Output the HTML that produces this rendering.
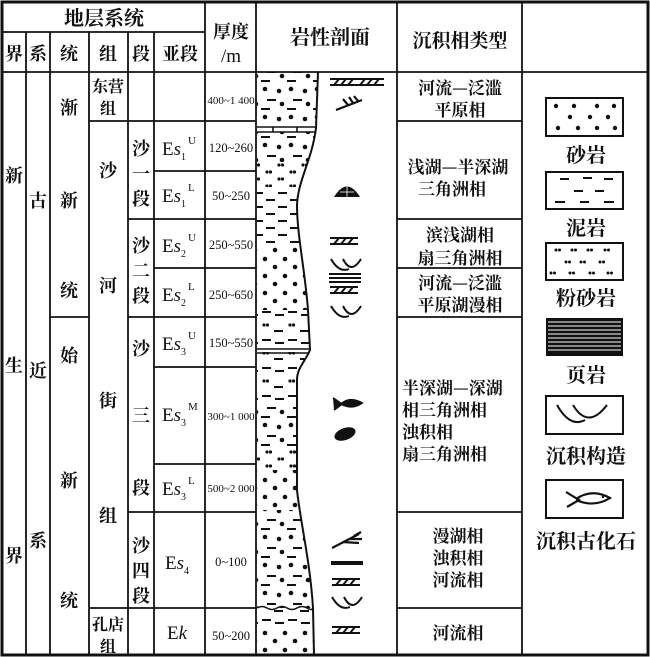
<!DOCTYPE html>
<html><head><meta charset="utf-8">
<style>
html,body{margin:0;padding:0;background:#fff;}
svg{display:block;}
text{font-family:"Liberation Serif","Noto Serif CJK SC",serif;fill:#111;}
.cj{font-family:"Noto Serif CJK SC","Liberation Serif",serif;font-weight:700;}
</style></head><body>
<svg width="650" height="657" viewBox="0 0 650 657" xmlns="http://www.w3.org/2000/svg">
<defs>
  <pattern id="sand" width="20" height="17" patternUnits="userSpaceOnUse">
    <circle cx="5" cy="4" r="2.3" fill="#111"/><circle cx="15" cy="12" r="2.3" fill="#111"/>
  </pattern>
  <pattern id="mud" width="24" height="14" patternUnits="userSpaceOnUse">
    <rect x="2" y="3" width="9" height="2" fill="#111"/><rect x="14" y="10" width="9" height="2" fill="#111"/>
  </pattern>
  <pattern id="silt" width="24" height="14" patternUnits="userSpaceOnUse">
    <circle cx="3" cy="4" r="1.6" fill="#111"/><circle cx="6.5" cy="4" r="1.6" fill="#111"/>
    <circle cx="15" cy="11" r="1.6" fill="#111"/><circle cx="18.5" cy="11" r="1.6" fill="#111"/>
  </pattern>
  <pattern id="mix" width="26" height="28" patternUnits="userSpaceOnUse">
    <circle cx="5" cy="5" r="2.3" fill="#111"/><circle cx="19" cy="7" r="2.3" fill="#111"/>
    <rect x="7" y="15" width="9" height="2" fill="#111"/><circle cx="22" cy="20" r="2.3" fill="#111"/>
    <rect x="1" y="24" width="9" height="2" fill="#111"/>
  </pattern>
  <pattern id="mixs" width="26" height="28" patternUnits="userSpaceOnUse">
    <rect x="2" y="3" width="9" height="2" fill="#111"/><rect x="15" y="6" width="9" height="2" fill="#111"/>
    <circle cx="4" cy="17" r="1.6" fill="#111"/><circle cx="7.5" cy="17" r="1.6" fill="#111"/>
    <rect x="14" y="22" width="9" height="2" fill="#111"/>
  </pattern>
  <clipPath id="prof">
    <path d="M257,72 L318,72 L316,128 C312,160 298,180 297,205 C297,235 305,270 308,310 L310,350 C305,362 297,368 297,380 L297,490 C300,520 310,560 313,608 L314,655 L257,655 Z"/>
  </clipPath>
  <g id="zzz">
    <line x1="0" y1="0" x2="28" y2="0" stroke="#111" stroke-width="2"/>
    <line x1="0" y1="6" x2="28" y2="6" stroke="#111" stroke-width="2"/>
    <line x1="4" y1="6" x2="9" y2="0" stroke="#111" stroke-width="2"/>
    <line x1="11" y1="6" x2="16" y2="0" stroke="#111" stroke-width="2"/>
    <line x1="18" y1="6" x2="23" y2="0" stroke="#111" stroke-width="2"/>
  </g>
  <g id="cur">
    <path d="M0,0 Q8,14 18,10 M12,0 Q20,16 30,0" fill="none" stroke="#111" stroke-width="2"/>
  </g>
</defs>

<g clip-path="url(#prof)">
  <rect x="257" y="72" width="70" height="54" fill="url(#mix)"/>
  <rect x="257" y="132" width="70" height="30" fill="url(#mix)"/>
  <rect x="257" y="162" width="70" height="25" fill="url(#silt)"/>
  <rect x="257" y="187" width="70" height="58" fill="url(#mud)"/>
  <rect x="257" y="245" width="70" height="65" fill="url(#sand)"/>
  <rect x="257" y="310" width="70" height="40" fill="url(#mixs)"/>
  <rect x="257" y="352" width="70" height="50" fill="url(#mixs)"/>
  <rect x="257" y="402" width="70" height="48" fill="url(#mix)"/>
  <rect x="257" y="450" width="70" height="20" fill="url(#silt)"/>
  <rect x="257" y="470" width="70" height="40" fill="url(#sand)"/>
  <rect x="257" y="510" width="70" height="98" fill="url(#mix)"/>
  <rect x="257" y="610" width="70" height="20" fill="url(#mixs)"/>
  <rect x="257" y="630" width="70" height="25" fill="url(#sand)"/>
</g>
<path d="M318,72 L316,128 C312,160 298,180 297,205 C297,235 305,270 308,310 L310,350 C305,362 297,368 297,380 L297,490 C300,520 310,560 313,608 L314,655" fill="none" stroke="#111" stroke-width="2"/>
<g stroke="#111" stroke-width="1.6" fill="none">
  <line x1="257" y1="127" x2="316" y2="127"/><line x1="257" y1="132" x2="315" y2="132"/>
  <line x1="273" y1="127" x2="273" y2="132"/><line x1="297" y1="127" x2="297" y2="132"/>
  <line x1="257" y1="349" x2="310" y2="349"/><line x1="257" y1="353" x2="308" y2="353"/>
  <path d="M257,608 q5,-3 10,0 t10,0 t10,0 t10,0 t10,0 t6,0"/>
</g>

<use href="#zzz" x="330" y="79"/>
<use href="#zzz" x="356" y="79"/>
<g stroke="#111" stroke-width="2.2" fill="none">
  <path d="M336,110 L362,100 M348,105 L343,99 M353,103 L349,97 M358,101 L354,96"/>
  <path d="M332,548 L359,534 M343,542 L359,543 M349,539 L362,539 M354,536 L361,532"/>
</g>
<path d="M334,197 Q347,176 360,197 Z" fill="#111"/>
<g stroke="#fff" stroke-width="0.8"><line x1="340" y1="192" x2="354" y2="192"/><line x1="347" y1="183" x2="347" y2="197"/></g>
<use href="#zzz" x="330" y="238"/>
<use href="#cur" x="331" y="259"/>
<g stroke="#111" stroke-width="2"><line x1="329" y1="274" x2="361" y2="274"/><line x1="329" y1="278" x2="361" y2="278"/><line x1="329" y1="282" x2="361" y2="282"/></g>
<use href="#zzz" x="330" y="287"/>
<use href="#cur" x="331" y="306"/>
<path d="M333,398 L342,404 L334,410 M341,404 Q350,396 362,403 Q352,410 341,404" fill="#111" stroke="#111" stroke-width="1.8"/>
<ellipse cx="345" cy="434" rx="11" ry="6" transform="rotate(-20 345 434)" fill="#111"/>
<rect x="331" y="561" width="32" height="4" fill="#111"/>
<use href="#zzz" x="332" y="579"/>
<use href="#cur" x="332" y="597"/>
<use href="#zzz" x="332" y="627"/>

<g stroke="#111" stroke-width="1.8">
  <line x1="2" y1="32" x2="205" y2="32"/>
  <line x1="2" y1="72" x2="648" y2="72"/>
  <line x1="26" y1="32" x2="26" y2="655"/>
  <line x1="50" y1="32" x2="50" y2="655"/>
  <line x1="89" y1="32" x2="89" y2="655"/>
  <line x1="128" y1="32" x2="128" y2="655"/>
  <line x1="154" y1="32" x2="154" y2="655"/>
  <line x1="205" y1="2" x2="205" y2="655"/>
  <line x1="256" y1="2" x2="256" y2="655"/>
  <line x1="397" y1="2" x2="397" y2="655"/>
  <line x1="522" y1="2" x2="522" y2="655"/>
  <line x1="89" y1="121" x2="256" y2="121"/><line x1="397" y1="121" x2="522" y2="121"/>
  <line x1="154" y1="171" x2="256" y2="171"/>
  <line x1="128" y1="219" x2="256" y2="219"/><line x1="397" y1="219" x2="522" y2="219"/>
  <line x1="154" y1="268" x2="256" y2="268"/><line x1="397" y1="268" x2="522" y2="268"/>
  <line x1="50" y1="317" x2="89" y2="317"/><line x1="128" y1="317" x2="256" y2="317"/><line x1="397" y1="317" x2="522" y2="317"/>
  <line x1="154" y1="367" x2="256" y2="367"/>
  <line x1="154" y1="464" x2="256" y2="464"/>
  <line x1="128" y1="512" x2="256" y2="512"/><line x1="397" y1="512" x2="522" y2="512"/>
  <line x1="89" y1="608" x2="256" y2="608"/><line x1="397" y1="608" x2="522" y2="608"/>
</g>
<rect x="2" y="2" width="646" height="653" fill="none" stroke="#111" stroke-width="3"/>

<g text-anchor="middle">
  <text x="104" y="25" class="cj" font-size="20">地层系统</text>
  <text x="14" y="60" class="cj" font-size="18">界</text>
  <text x="38" y="60" class="cj" font-size="18">系</text>
  <text x="69" y="60" class="cj" font-size="18">统</text>
  <text x="108" y="60" class="cj" font-size="18">组</text>
  <text x="141" y="60" class="cj" font-size="18">段</text>
  <text x="180" y="60" class="cj" font-size="18">亚段</text>
  <text x="231" y="38" class="cj" font-size="18">厚度</text>
  <text x="231" y="62" font-size="19">/m</text>
  <text x="330" y="44" class="cj" font-size="20">岩性剖面</text>
  <text x="460" y="47" class="cj" font-size="19">沉积相类型</text>
</g>

<g text-anchor="middle" font-size="18">
  <text x="14" y="182" class="cj">新</text><text x="14" y="372" class="cj">生</text><text x="14" y="562" class="cj">界</text>
  <text x="38" y="207" class="cj">古</text><text x="38" y="377" class="cj">近</text><text x="38" y="547" class="cj">系</text>
  <text x="69" y="114" class="cj">渐</text><text x="69" y="207" class="cj">新</text><text x="69" y="297" class="cj">统</text>
  <text x="69" y="362" class="cj">始</text><text x="69" y="487" class="cj">新</text><text x="69" y="607" class="cj">统</text>
  <text x="108" y="92" class="cj" font-size="16">东营</text><text x="108" y="114" class="cj" font-size="16">组</text>
  <text x="108" y="177" class="cj">沙</text><text x="108" y="292" class="cj">河</text><text x="108" y="407" class="cj">街</text><text x="108" y="522" class="cj">组</text>
  <text x="108" y="630" class="cj" font-size="16">孔店</text><text x="108" y="652" class="cj" font-size="16">组</text>
  <text x="141" y="155" class="cj">沙</text><text x="141" y="180" class="cj">一</text><text x="141" y="205" class="cj">段</text>
  <text x="141" y="252" class="cj">沙</text><text x="141" y="277" class="cj">二</text><text x="141" y="302" class="cj">段</text>
  <text x="141" y="355" class="cj">沙</text><text x="141" y="422" class="cj">三</text><text x="141" y="494" class="cj">段</text>
  <text x="141" y="552" class="cj">沙</text><text x="141" y="577" class="cj">四</text><text x="141" y="602" class="cj">段</text>
</g>

<g font-size="19">
  <text x="162" y="155">E<tspan font-style="italic">s</tspan><tspan font-size="10" dy="5">1</tspan><tspan font-size="11" dy="-16" dx="2">U</tspan></text>
  <text x="162" y="202">E<tspan font-style="italic">s</tspan><tspan font-size="10" dy="5">1</tspan><tspan font-size="11" dy="-16" dx="2">L</tspan></text>
  <text x="162" y="252">E<tspan font-style="italic">s</tspan><tspan font-size="10" dy="5">2</tspan><tspan font-size="11" dy="-16" dx="2">U</tspan></text>
  <text x="162" y="301">E<tspan font-style="italic">s</tspan><tspan font-size="10" dy="5">2</tspan><tspan font-size="11" dy="-16" dx="2">L</tspan></text>
  <text x="162" y="350">E<tspan font-style="italic">s</tspan><tspan font-size="10" dy="5">3</tspan><tspan font-size="11" dy="-16" dx="2">U</tspan></text>
  <text x="162" y="421">E<tspan font-style="italic">s</tspan><tspan font-size="10" dy="5">3</tspan><tspan font-size="11" dy="-16" dx="2">M</tspan></text>
  <text x="162" y="495">E<tspan font-style="italic">s</tspan><tspan font-size="10" dy="5">3</tspan><tspan font-size="11" dy="-16" dx="2">L</tspan></text>
  <text x="165" y="569">E<tspan font-style="italic">s</tspan><tspan font-size="10" dy="5">4</tspan></text>
  <text x="167" y="639">E<tspan font-style="italic">k</tspan></text>
</g>

<g font-size="12.5" text-anchor="middle">
  <text x="231" y="104" font-size="11">400~1 400</text>
  <text x="231" y="152">120~260</text>
  <text x="231" y="200">50~250</text>
  <text x="231" y="249">250~550</text>
  <text x="231" y="299">250~650</text>
  <text x="231" y="347">150~550</text>
  <text x="231" y="420" font-size="11">300~1 000</text>
  <text x="231" y="492" font-size="11">500~2 000</text>
  <text x="231" y="566">0~100</text>
  <text x="231" y="640">50~200</text>
</g>

<g text-anchor="middle" font-size="17">
  <text x="460" y="94" class="cj">河流—泛滥</text><text x="460" y="116" class="cj">平原相</text>
  <text x="458" y="173" class="cj">浅湖—半深湖</text><text x="452" y="195" class="cj">三角洲相</text>
  <text x="460" y="241" class="cj">滨浅湖相</text><text x="460" y="264" class="cj">扇三角洲相</text>
  <text x="460" y="289" class="cj">河流—泛滥</text><text x="460" y="311" class="cj">平原湖漫相</text>
</g>
<g font-size="17">
  <text x="402" y="394" class="cj">半深湖—深湖</text>
  <text x="402" y="416" class="cj">相三角洲相</text>
  <text x="402" y="438" class="cj">浊积相</text>
  <text x="402" y="460" class="cj">扇三角洲相</text>
</g>
<g text-anchor="middle" font-size="17">
  <text x="458" y="542" class="cj">漫湖相</text><text x="458" y="564" class="cj">浊积相</text><text x="458" y="586" class="cj">河流相</text>
  <text x="458" y="639" class="cj">河流相</text>
</g>

<g stroke="#111" stroke-width="2" fill="#fff">
  <rect x="546" y="98" width="77" height="38"/>
  <rect x="546" y="172" width="77" height="37"/>
  <rect x="546" y="243" width="77" height="37"/>
  <rect x="546" y="396" width="77" height="38"/>
  <rect x="546" y="480" width="77" height="38"/>
</g>
<g fill="#111">
  <circle cx="556" cy="106" r="2.2"/><circle cx="574" cy="106" r="2.2"/><circle cx="597" cy="106" r="2.2"/><circle cx="614" cy="106" r="2.2"/>
  <circle cx="570" cy="117" r="2.2"/><circle cx="590" cy="117" r="2.2"/><circle cx="608" cy="117" r="2.2"/>
  <circle cx="558" cy="128" r="2.2"/><circle cx="578" cy="128" r="2.2"/><circle cx="597" cy="128" r="2.2"/><circle cx="615" cy="128" r="2.2"/>
  <rect x="560" y="178" width="9" height="2"/><rect x="583" y="177" width="9" height="2"/><rect x="604" y="178" width="9" height="2"/>
  <rect x="574" y="190" width="9" height="2"/><rect x="595" y="190" width="9" height="2"/>
  <rect x="555" y="201" width="10" height="2"/><rect x="580" y="201" width="9" height="2"/><rect x="604" y="201" width="10" height="2"/>
  <rect x="546" y="318" width="77" height="38"/>
</g>
<g fill="#111">
  <circle cx="556" cy="250" r="1.5"/><circle cx="559.5" cy="250" r="1.5"/><circle cx="572" cy="250" r="1.5"/><circle cx="575.5" cy="250" r="1.5"/>
  <circle cx="588" cy="250" r="1.5"/><circle cx="591.5" cy="250" r="1.5"/><circle cx="605" cy="250" r="1.5"/><circle cx="608.5" cy="250" r="1.5"/>
  <circle cx="566" cy="262" r="1.5"/><circle cx="569.5" cy="262" r="1.5"/><circle cx="581" cy="262" r="1.5"/><circle cx="584.5" cy="262" r="1.5"/><circle cx="600" cy="262" r="1.5"/><circle cx="603.5" cy="262" r="1.5"/>
  <circle cx="551" cy="273" r="1.5"/><circle cx="554.5" cy="273" r="1.5"/><circle cx="570" cy="273" r="1.5"/><circle cx="573.5" cy="273" r="1.5"/>
  <circle cx="590" cy="273" r="1.5"/><circle cx="593.5" cy="273" r="1.5"/><circle cx="608" cy="273" r="1.5"/><circle cx="611.5" cy="273" r="1.5"/>
</g>
<g stroke="#fff" stroke-width="1">
  <line x1="548" y1="322" x2="621" y2="322"/><line x1="548" y1="326" x2="621" y2="326"/><line x1="548" y1="330" x2="621" y2="330"/>
  <line x1="548" y1="334" x2="621" y2="334"/><line x1="548" y1="338" x2="621" y2="338"/><line x1="548" y1="342" x2="621" y2="342"/>
  <line x1="548" y1="346" x2="621" y2="346"/><line x1="548" y1="350" x2="621" y2="350"/>
</g>
<path d="M557,405 Q570,428 585,420 M573,405 Q588,430 607,405" fill="none" stroke="#111" stroke-width="2"/>
<path d="M566,492 L579,500 L567,507 M576,499 Q592,488 610,498 Q594,508 576,500" fill="none" stroke="#111" stroke-width="2.2"/>
<circle cx="603" cy="497" r="1.2" fill="#111"/>
<g text-anchor="middle" font-size="20">
  <text x="586" y="162" class="cj">砂岩</text>
  <text x="586" y="235" class="cj">泥岩</text>
  <text x="586" y="305" class="cj">粉砂岩</text>
  <text x="586" y="382" class="cj">页岩</text>
  <text x="586" y="463" class="cj">沉积构造</text>
  <text x="586" y="548" class="cj">沉积古化石</text>
</g>
</svg>
</body></html>
